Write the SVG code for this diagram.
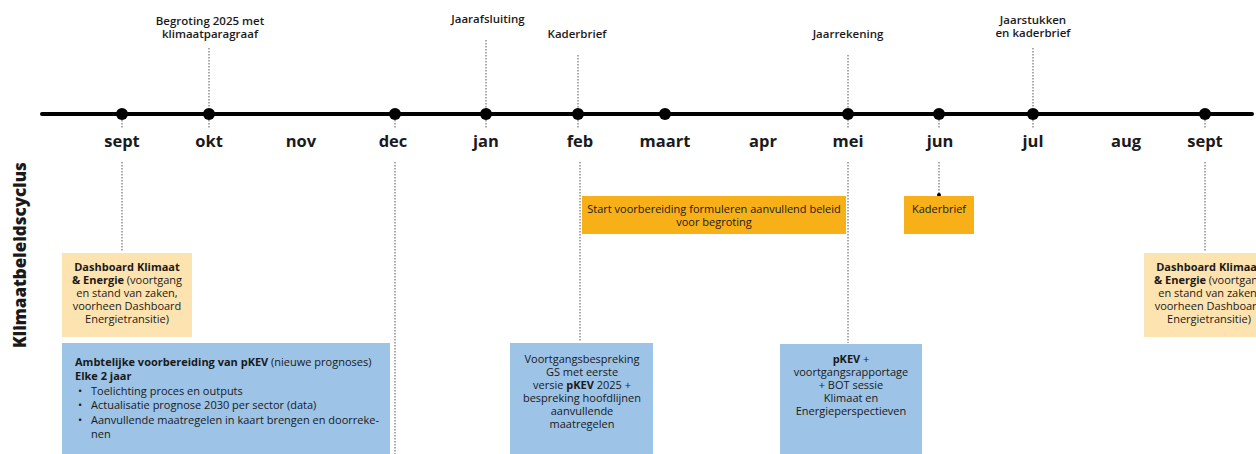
<svg xmlns="http://www.w3.org/2000/svg" width="1256" height="454" viewBox="0 0 1256 454">
<style>
text{font-family:"Open Sans","Noto Sans","Liberation Sans",sans-serif;fill:#1a1a1a}
.m{font-size:16.5px;font-weight:700;text-anchor:middle}
.t{font-size:11.5px;font-weight:600;text-anchor:middle}
.b{font-size:11px;text-anchor:middle}
.l{font-size:11px}
.bold{font-weight:700}
.dot{stroke:#555;stroke-width:1;stroke-dasharray:1.5 1.5;fill:none}
.peach{fill:#FDE3AF}
.blue{fill:#9DC3E6}
.orange{fill:#F8B018}
</style>
<rect width="1256" height="454" fill="#fff"/>
<g id="connectors">
<line x1="42" y1="114" x2="1252" y2="114" stroke="#000" stroke-width="4" stroke-linecap="round"/>
<path class="dot" d="M209 48V108M486 40V108M578 55V108M848 55V108M1033 48V108"/>
<path class="dot" d="M122 120V129M209 120V129M395 120V129M486 120V129M578 120V129M848 120V129M939 120V129M1033 120V129M1205 120V129"/>
<path class="dot" d="M122 162V252M395 162V454M580 162V342M848 162V343M939 162V195M1205 162V252"/>
<circle cx="939" cy="195" r="2" fill="#000"/>
<g fill="#000">
<circle cx="122" cy="114" r="6"/><circle cx="209" cy="114" r="6"/><circle cx="395" cy="114" r="6"/><circle cx="486" cy="114" r="6"/><circle cx="578" cy="114" r="6"/><circle cx="665" cy="114" r="6"/><circle cx="848" cy="114" r="6"/><circle cx="939" cy="114" r="6"/><circle cx="1033" cy="114" r="6"/><circle cx="1205" cy="114" r="6"/>
</g>
</g>
<g id="months">
<text class="m" x="122" y="147">sept</text>
<text class="m" x="209" y="147">okt</text>
<text class="m" x="301" y="147">nov</text>
<text class="m" x="393" y="147">dec</text>
<text class="m" x="486" y="147">jan</text>
<text class="m" x="580" y="147">feb</text>
<text class="m" x="665" y="147">maart</text>
<text class="m" x="763" y="147">apr</text>
<text class="m" x="848" y="147">mei</text>
<text class="m" x="940" y="147">jun</text>
<text class="m" x="1033" y="147">jul</text>
<text class="m" x="1126" y="147">aug</text>
<text class="m" x="1205" y="147">sept</text>
</g>
<g id="milestones">
<text class="t" x="210" y="25">Begroting 2025 met</text>
<text class="t" x="210" y="38">klimaatparagraaf</text>
<text class="t" x="488" y="23">Jaarafsluiting</text>
<text class="t" x="577" y="38">Kaderbrief</text>
<text class="t" x="848" y="38">Jaarrekening</text>
<text class="t" x="1033" y="24">Jaarstukken</text>
<text class="t" x="1033" y="37">en kaderbrief</text>
</g>
<text transform="translate(26 255) rotate(-90)" font-size="17" font-weight="800" text-anchor="middle">Klimaatbeleidscyclus</text>
<g id="dashboard-left">
<rect class="peach" x="62" y="253" width="130" height="84"/>
<text class="b" x="127" y="271"><tspan class="bold">Dashboard Klimaat</tspan></text>
<text class="b" x="127" y="284"><tspan class="bold">&amp; Energie</tspan> (voortgang</text>
<text class="b" x="127" y="297">en stand van zaken,</text>
<text class="b" x="127" y="310">voorheen Dashboard</text>
<text class="b" x="127" y="323">Energietransitie)</text>
</g>
<g id="ambtelijke">
<rect class="blue" x="62" y="343" width="328" height="111"/>
<text class="l" x="75" y="366"><tspan class="bold">Ambtelijke voorbereiding van pKEV</tspan> (nieuwe prognoses)</text>
<text class="l bold" x="75" y="380">Elke 2 jaar</text>
<text class="l" x="78" y="395">•</text><text class="l" x="91" y="395">Toelichting proces en outputs</text>
<text class="l" x="78" y="409">•</text><text class="l" x="91" y="409">Actualisatie prognose 2030 per sector (data)</text>
<text class="l" x="78" y="424">•</text><text class="l" x="91" y="424">Aanvullende maatregelen in kaart brengen en doorreke-</text>
<text class="l" x="91" y="438">nen</text>
</g>
<g id="start-voorbereiding">
<rect class="orange" x="582" y="196" width="264" height="38"/>
<text class="b" x="714" y="213">Start voorbereiding formuleren aanvullend beleid</text>
<text class="b" x="714" y="226">voor begroting</text>
</g>
<g id="kaderbrief-box">
<rect class="orange" x="904" y="196" width="70" height="38"/>
<text class="b" x="939" y="213">Kaderbrief</text>
</g>
<g id="voortgangsbespreking">
<rect class="blue" x="510" y="343" width="143" height="111"/>
<text class="b" x="582" y="363">Voortgangsbespreking</text>
<text class="b" x="582" y="376">GS met eerste</text>
<text class="b" x="582" y="389">versie <tspan class="bold">pKEV</tspan> 2025 +</text>
<text class="b" x="582" y="402">bespreking hoofdlijnen</text>
<text class="b" x="582" y="415">aanvullende</text>
<text class="b" x="582" y="428">maatregelen</text>
</g>
<g id="pkev-mei">
<rect class="blue" x="780" y="344" width="142" height="110"/>
<text class="b" x="851" y="363"><tspan class="bold">pKEV</tspan> +</text>
<text class="b" x="851" y="376">voortgangsrapportage</text>
<text class="b" x="851" y="389">+ BOT sessie</text>
<text class="b" x="851" y="402">Klimaat en</text>
<text class="b" x="851" y="415">Energieperspectieven</text>
</g>
<g id="dashboard-right">
<rect class="peach" x="1144" y="253" width="130" height="84"/>
<text class="b" x="1209" y="271"><tspan class="bold">Dashboard Klimaat</tspan></text>
<text class="b" x="1209" y="284"><tspan class="bold">&amp; Energie</tspan> (voortgang</text>
<text class="b" x="1209" y="297">en stand van zaken,</text>
<text class="b" x="1209" y="310">voorheen Dashboard</text>
<text class="b" x="1209" y="323">Energietransitie)</text>
</g>
</svg>
